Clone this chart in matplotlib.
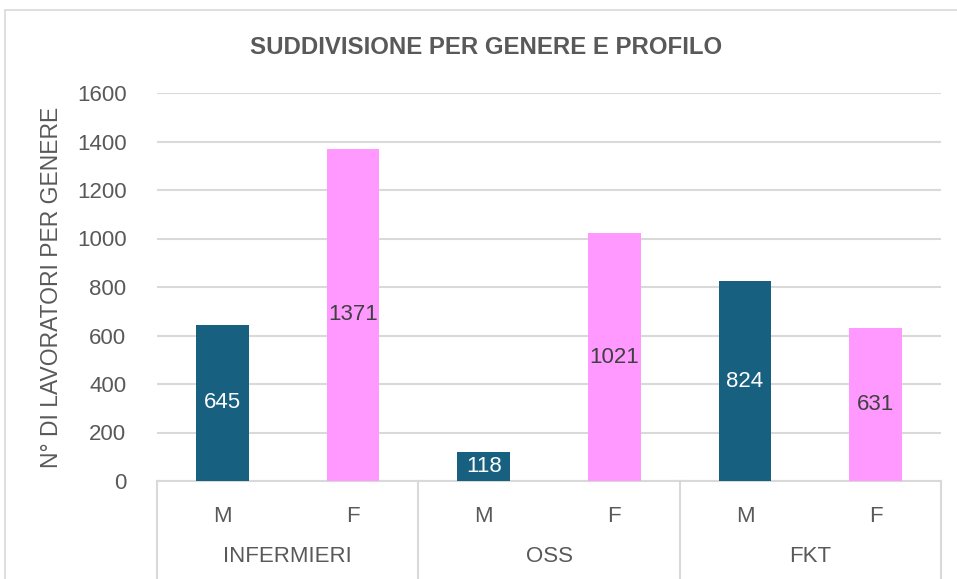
import matplotlib.pyplot as plt
from matplotlib.patches import Rectangle
from matplotlib import font_manager

# Data
PROFILES = ["INFERMIERI", "OSS", "FKT"]
GENDERS = ["M", "F"]
MALE_COUNTS = [645, 118, 824]
FEMALE_COUNTS = [1371, 1021, 631]
Y_TICKS = [0, 200, 400, 600, 800, 1000, 1200, 1400, 1600]

MALE_COLOR = "#17607F"
FEMALE_COLOR = "#FF99FF"
TEXT_COLOR = "#595959"
GRID_COLOR = "#D9D9D9"

installed = {f.name for f in font_manager.fontManager.ttflist}
narrow = "Liberation Sans Narrow" if "Liberation Sans Narrow" in installed else "Liberation Sans"
plt.rcParams["font.family"] = [narrow, "DejaVu Sans"]

W, H = 957, 579
fig = plt.figure(figsize=(W / 100, H / 100), dpi=100)

# outer chart border (cut off on the right and bottom)
fig.patches.append(Rectangle((5 / W, -0.1), 1.2, 1 - 10 / H + 0.1,
                             transform=fig.transFigure, fill=False,
                             edgecolor=GRID_COLOR, linewidth=1.2))

x0, x1, y0, y1 = 157, 941, 481, 93
ax = fig.add_axes([x0 / W, (H - y0) / H, (x1 - x0) / W, (y0 - y1) / H])

# interleave M/F per profile
values, colors, labels = [], [], []
for m, f in zip(MALE_COUNTS, FEMALE_COUNTS):
    values += [m, f]
    colors += [MALE_COLOR, FEMALE_COLOR]
    labels += GENDERS
positions = list(range(len(values)))

bars = ax.bar(positions, values, width=0.405, color=colors, zorder=3)
for bar, val, col in zip(bars, values, colors):
    txt_color = "white" if col == MALE_COLOR else "#404040"
    ax.text(bar.get_x() + bar.get_width() / 2, val / 2, str(val),
            ha="center", va="center", fontsize=16, color=txt_color, zorder=4)

ax.set_xlim(-0.5, len(values) - 0.5)
ax.set_ylim(0, 1600)
ax.set_yticks(Y_TICKS)
ax.yaxis.grid(True, color=GRID_COLOR, linewidth=1.5, zorder=0)
ax.set_xticks(positions)
ax.set_xticklabels(labels)
ax.tick_params(axis="both", length=0, labelsize=16, labelcolor=TEXT_COLOR)
ax.tick_params(axis="x", pad=18)
ax.tick_params(axis="y", pad=22)
for side in ["top", "right", "left"]:
    ax.spines[side].set_visible(False)
ax.spines["bottom"].set_color(GRID_COLOR)
ax.spines["bottom"].set_linewidth(1.5)

ax.set_ylabel("N° DI LAVORATORI PER GENERE", fontsize=16.5, color=TEXT_COLOR, labelpad=10)

# second level category axis
trans = ax.get_xaxis_transform()
depth = 100 / (y0 - y1)
for i in range(len(PROFILES) + 1):
    xb = i * 2 - 0.5
    ax.plot([xb, xb], [0, -depth], transform=trans, color=GRID_COLOR,
            linewidth=1.5, clip_on=False)
for i, name in enumerate(PROFILES):
    ax.text(i * 2 + 0.5, -75 / (y0 - y1), name, transform=trans, ha="center",
            va="center", fontsize=16, color=TEXT_COLOR)

fig.text(486 / W, 1 - 48 / H, "SUDDIVISIONE PER GENERE E PROFILO",
         ha="center", va="center", fontsize=17.3, fontweight="bold", color=TEXT_COLOR)

fig.savefig("out.png", dpi=100)
